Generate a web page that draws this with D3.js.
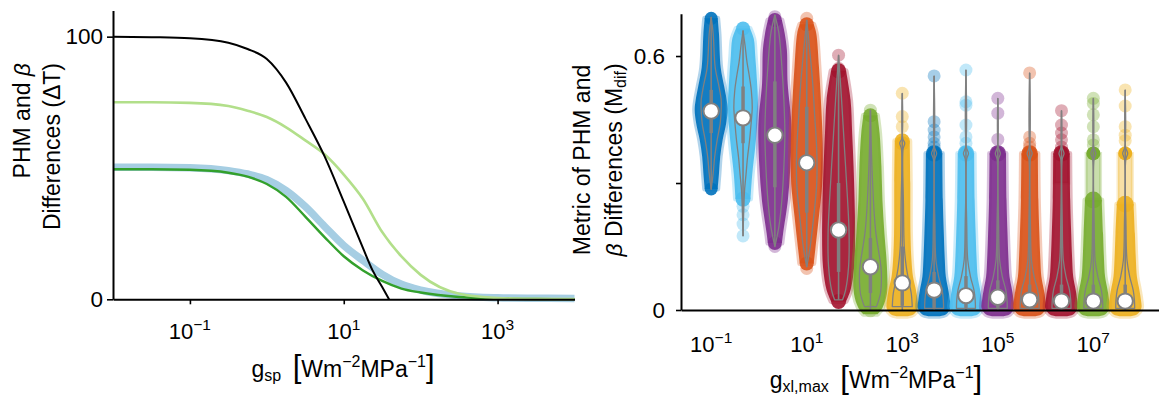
<!DOCTYPE html>
<html>
<head>
<meta charset="utf-8">
<script src="https://cdn.jsdelivr.net/npm/d3@7/dist/d3.min.js"></script>
<style>
html,body{margin:0;padding:0;background:#fff;}
svg{display:block;}
text{font-family:"Liberation Sans","DejaVu Sans",sans-serif;fill:#000;}
</style>
</head>
<body>
<svg id="chart" width="1159" height="402"></svg>
<script>
// ================= LEFT PANEL DATA =================
const gspBlack = [0.01, 0.0316, 0.1, 0.316, 0.562, 1, 1.78, 3.16, 5.62, 10, 17.8, 23.7, 31.6, 38.8];
const dTBlack  = [100, 99.8, 99.4, 97.7, 95.3, 91.5, 82.5, 68.9, 54.5, 37.2, 19.5, 11.0, 4.7, 0];
const gsp = [0.01, 0.0316, 0.1, 0.316, 0.562, 1, 1.78, 3.16, 5.62, 10, 17.8, 31.6, 56.2, 100, 316, 1000, 3162, 10000];
const dTLightGreen = [75, 75, 74.8, 73.6, 71.8, 69.4, 65.5, 60.5, 55.2, 47.5, 38.2, 25.6, 16.3, 9.3, 2.1, 0.5, 0.15, 0.05];
const dTBlue       = [50.3, 50.3, 50.1, 49.0, 47.7, 45.5, 41.4, 35.3, 27.8, 20.5, 14.8, 9.5, 5.7, 3.5, 1.3, 0.6, 0.4, 0.3];
const dTDarkGreen  = [49.5, 49.5, 49.3, 48.2, 46.7, 43.9, 39.0, 31.5, 23.7, 16.4, 11.0, 7.0, 4.1, 2.6, 0.9, 0.35, 0.1, 0.05];
const leftXTicks = [0.1, 10, 1000];
const leftYTicks = [0, 100];

// ================= RIGHT PANEL DATA =================
const gxl = [0.1, 0.4642, 2.154, 10, 46.42, 215.4, 1000, 4642, 21544, 1e5, 464159, 2154435, 1e7, 46415888];
const rightXTicks = [0.1, 10, 1000, 1e5, 1e7];
const rightYTicks = [0, 0.3, 0.6];
const medians = [0.470, 0.454, 0.413, 0.348, 0.189, 0.102, 0.064, 0.047, 0.034, 0.030, 0.024, 0.021, 0.021, 0.021];
const q1s     = [0.418, 0.394, 0.290, 0.230, 0.090, 0.040, 0.010, 0.005, 0.005, 0.005, 0.004, 0.004, 0.004, 0.004];
const q3s     = [0.520, 0.528, 0.540, 0.480, 0.300, 0.170, 0.150, 0.090, 0.080, 0.070, 0.060, 0.060, 0.060, 0.060];
const mins    = [0.285, 0.175, 0.150, 0.102, 0.024, 0, 0, 0, 0, 0, 0, 0, 0, 0];
const maxs    = [0.692, 0.660, 0.697, 0.685, 0.602, 0.472, 0.512, 0.553, 0.567, 0.500, 0.560, 0.471, 0.500, 0.520];
// violin outline: [value, relative density]
const violinDensity = [
  [[0.692,0],[0.652,0.2],[0.573,0.4],[0.528,0.78],[0.496,1.0],[0.473,1.0],[0.441,0.9],[0.402,0.6],[0.362,0.35],[0.323,0.2],[0.285,0]],
  [[0.660,0],[0.625,0.2],[0.585,0.4],[0.557,0.6],[0.518,0.83],[0.479,0.92],[0.439,0.8],[0.400,0.65],[0.361,0.45],[0.321,0.3],[0.282,0.15],[0.243,0.08],[0.175,0]],
  [[0.697,0],[0.654,0.4],[0.575,0.7],[0.496,0.9],[0.417,1.0],[0.339,0.9],[0.260,0.7],[0.197,0.4],[0.150,0]],
  [[0.685,0],[0.614,0.3],[0.535,0.6],[0.457,0.8],[0.378,1.0],[0.299,1.0],[0.221,0.7],[0.142,0.3],[0.102,0]],
  [[0.602,0],[0.496,0.3],[0.378,0.6],[0.260,0.9],[0.181,1.05],[0.102,1.0],[0.047,0.7],[0.024,0.4]],
  [[0.472,0],[0.417,0.05],[0.339,0.15],[0.260,0.3],[0.221,0.4],[0.181,0.55],[0.142,0.8],[0.102,1.05],[0.079,1.1],[0.039,1.0],[0.008,0.6]],
  [[0.512,0],[0.405,0.05],[0.394,0.25],[0.380,0.08],[0.250,0.12],[0.150,0.2],[0.102,0.4],[0.063,0.7],[0.039,0.9],[0.008,1.0]],
  [[0.553,0],[0.385,0.04],[0.370,0.25],[0.355,0.06],[0.200,0.08],[0.118,0.18],[0.079,0.45],[0.047,0.8],[0.024,0.92],[0.004,0.95]],
  [[0.567,0],[0.385,0.04],[0.370,0.25],[0.355,0.06],[0.200,0.08],[0.118,0.18],[0.079,0.45],[0.047,0.8],[0.024,0.92],[0.004,0.95]],
  [[0.500,0],[0.385,0.04],[0.370,0.25],[0.355,0.06],[0.200,0.08],[0.118,0.18],[0.079,0.45],[0.047,0.8],[0.024,0.92],[0.004,0.95]],
  [[0.560,0],[0.385,0.04],[0.370,0.25],[0.355,0.06],[0.200,0.08],[0.118,0.18],[0.079,0.45],[0.047,0.8],[0.024,0.92],[0.004,0.95]],
  [[0.471,0],[0.385,0.04],[0.370,0.25],[0.355,0.06],[0.200,0.08],[0.118,0.18],[0.079,0.45],[0.047,0.8],[0.024,0.92],[0.004,0.95]],
  [[0.500,0],[0.385,0.04],[0.370,0.25],[0.355,0.06],[0.200,0.08],[0.118,0.18],[0.079,0.45],[0.047,0.8],[0.024,0.92],[0.004,0.95]],
  [[0.520,0],[0.385,0.04],[0.370,0.25],[0.355,0.06],[0.200,0.08],[0.118,0.18],[0.079,0.45],[0.047,0.8],[0.024,0.92],[0.004,0.95]]
];
// dense cloud of data points: [value, relative spread]
const pointSpread = [
  [[0.689,0.65],[0.652,0.78],[0.573,0.95],[0.528,1.3],[0.496,1.55],[0.473,1.65],[0.441,1.5],[0.402,1.15],[0.362,0.9],[0.323,0.78],[0.286,0.65]],
  [[0.665,0.7],[0.640,1.08],[0.600,1.22],[0.557,1.35],[0.479,1.5],[0.400,1.28],[0.321,0.92],[0.262,0.75]],
  [[0.685,0.7],[0.654,0.98],[0.614,1.2],[0.535,1.28],[0.457,1.6],[0.417,1.66],[0.339,1.55],[0.260,1.3],[0.181,0.82],[0.158,0.7]],
  [[0.675,0.7],[0.654,0.95],[0.575,1.22],[0.457,1.5],[0.378,1.6],[0.299,1.55],[0.221,1.22],[0.142,0.85],[0.110,0.7]],
  [[0.565,0.75],[0.496,1.2],[0.417,1.36],[0.339,1.5],[0.260,1.6],[0.181,1.65],[0.102,1.56],[0.047,1.2],[0.020,0.75]],
  [[0.460,0.7],[0.417,0.92],[0.339,1.1],[0.260,1.2],[0.181,1.4],[0.102,1.65],[0.039,1.65],[0.005,1.2],[-0.010,0.7]],
  [[0.400,0.75],[0.300,0.8],[0.181,0.82],[0.118,0.92],[0.079,1.07],[0.047,1.37],[0.024,1.52],[0.005,1.57],[-0.010,1.15],[-0.015,0.5]],
  [[0.370,0.82],[0.260,0.87],[0.181,0.97],[0.118,1.07],[0.079,1.17],[0.047,1.42],[0.024,1.57],[0.005,1.62],[-0.010,1.2],[-0.015,0.5]],
  [[0.370,0.82],[0.260,0.87],[0.181,0.97],[0.118,1.07],[0.079,1.17],[0.047,1.42],[0.024,1.57],[0.005,1.62],[-0.010,1.2],[-0.015,0.5]],
  [[0.370,0.82],[0.260,0.87],[0.181,0.97],[0.118,1.07],[0.079,1.17],[0.047,1.42],[0.024,1.57],[0.005,1.62],[-0.010,1.2],[-0.015,0.5]],
  [[0.370,0.82],[0.260,0.87],[0.181,0.97],[0.118,1.07],[0.079,1.17],[0.047,1.42],[0.024,1.57],[0.005,1.62],[-0.010,1.2],[-0.015,0.5]],
  [[0.370,0.82],[0.260,0.87],[0.181,0.97],[0.118,1.07],[0.079,1.17],[0.047,1.42],[0.024,1.57],[0.005,1.62],[-0.010,1.2],[-0.015,0.5]],
  [[0.260,0.84],[0.181,0.97],[0.118,1.07],[0.079,1.17],[0.047,1.42],[0.024,1.57],[0.005,1.62],[-0.010,1.2],[-0.015,0.5]],
  [[0.250,0.84],[0.181,0.97],[0.118,1.07],[0.079,1.17],[0.047,1.42],[0.024,1.57],[0.005,1.62],[-0.010,1.2],[-0.015,0.5]]
];
// sparse points drawn individually
const sparsePoints = [
  [], [0.245,0.225,0.203,0.175], [0.693,0.150], [0.689,0.098], [0.602,0.571], [0.472,-0.002],
  [0.512,0.457,0.433],
  [0.553,0.445,0.425,0.409,0.394,0.385],
  [0.567,0.492,0.484,0.437,0.409,0.394],
  [0.500,0.465,0.403],
  [0.560,0.409,0.394,0.385],
  [0.471,0.437,0.418,0.402,0.385],
  [0.500,0.488,0.461,0.433,0.402,0.390],
  [0.520,0.482,0.433,0.413,0.400]
];
// values where many points pile up
const pilePoints = [[],[],[],[],[],[],[0.394],[0.370],[0.370],[0.370],[0.370],[0.370],[0.370],[0.370]];
// thinner band of points [from, to]
const thinBands = [null,null,null,null,null,null,null,null,null,null,null,[0.30,0.36],[0.26,0.37],[0.25,0.37]];
const violinColors = ["#0072BD","#4DBEEE","#7E2F8E","#D95319","#A2142F","#77AC30","#EDB120",
                      "#0072BD","#4DBEEE","#7E2F8E","#D95319","#A2142F","#77AC30","#EDB120"];

// ================= DRAWING =================
const svg = d3.select("#chart");
const GREY = "#808080";

function powLabel(g, x, y, exp) {
  const t = g.append("text").attr("x", x).attr("y", y).attr("text-anchor", "middle").attr("font-size", 22);
  t.append("tspan").text("10");
  t.append("tspan").attr("font-size", 15.5).attr("dy", -9).text(exp < 0 ? "\u2212" + (-exp) : String(exp));
}
function unitLabel(g, cx, y, sub) {
  const t = g.append("text").attr("x", cx).attr("y", y).attr("text-anchor", "middle").attr("font-size", 23);
  t.append("tspan").text("g");
  t.append("tspan").attr("font-size", 16).attr("dy", 4).text(sub);
  t.append("tspan").attr("dy", -4).text("\u2002");
  t.append("tspan").attr("font-size", 31).text("[");
  t.append("tspan").text("Wm");
  t.append("tspan").attr("font-size", 16).attr("dy", -10).text("\u22122");
  t.append("tspan").attr("dy", 10).text("MPa");
  t.append("tspan").attr("font-size", 16).attr("dy", -10).text("\u22121");
  t.append("tspan").attr("font-size", 31).attr("dy", 10).text("]");
}
function styleAxis(g) {
  g.attr("font-size", null).attr("font-family", null);
  g.select(".domain").attr("stroke", "#000").attr("stroke-width", 2);
  g.selectAll(".tick line").attr("stroke", "#000").attr("stroke-width", 1.6);
  g.selectAll(".tick text").attr("font-size", 22.5).attr("fill", "#000");
}

// ---------- LEFT ----------
const xL = d3.scaleLog().domain([1e-2, 1e4]).range([113, 574.5]);
const yL = d3.scaleLinear().domain([0, 110]).range([299.3, 10.4]);
const gl = svg.append("g");

const lineL = d3.line().x(d => xL(d[0])).y(d => yL(d[1])).curve(d3.curveMonotoneX);
const zip = (a, b) => a.map((v, i) => [v, b[i]]);
gl.append("path").attr("d", lineL(zip(gsp, dTBlue))).attr("fill", "none")
  .attr("stroke", "#a6cee3").attr("stroke-width", 7.5).attr("stroke-linecap", "butt");
gl.append("path").attr("d", lineL(zip(gsp, dTDarkGreen))).attr("fill", "none")
  .attr("stroke", "#33a02c").attr("stroke-width", 2.4);
gl.append("path").attr("d", lineL(zip(gsp, dTLightGreen))).attr("fill", "none")
  .attr("stroke", "#b2df8a").attr("stroke-width", 2.6);
gl.append("path").attr("d", lineL(zip(gspBlack, dTBlack))).attr("fill", "none")
  .attr("stroke", "#000").attr("stroke-width", 2);

const axLX = gl.append("g").attr("transform", `translate(0,${yL(0)})`)
  .call(d3.axisBottom(xL).tickValues(leftXTicks).tickSize(5).tickSizeOuter(0).tickFormat(() => ""));
styleAxis(axLX);
const axLY = gl.append("g").attr("transform", `translate(${xL(1e-2)},0)`)
  .call(d3.axisLeft(yL).tickValues(leftYTicks).tickSize(6).tickPadding(4).tickSizeOuter(0).tickFormat(d3.format("d")));
styleAxis(axLY);
leftXTicks.forEach(v => powLabel(gl, xL(v), 338.5, Math.round(Math.log10(v))));
unitLabel(gl, 343, 377, "sp");

const yl1 = gl.append("text").attr("transform", "translate(29.5,63) rotate(-90)")
  .attr("text-anchor", "end").attr("font-size", 23);
yl1.append("tspan").text("PHM and ");
yl1.append("tspan").attr("font-style", "italic").text("\u03B2");
gl.append("text").attr("transform", "translate(60,63) rotate(-90)")
  .attr("text-anchor", "end").attr("font-size", 23).text("Differences (\u0394T)");

// ---------- RIGHT ----------
const xR = d3.scaleLog().domain([Math.pow(10, -1.632), Math.pow(10, 8.5)]).range([681, 1165]);
const yR = d3.scaleLinear().domain([0, 0.7]).range([310, 13.7]);
const densW = d3.scaleLinear().domain([0, 1]).range([0, 10]);
const R = 6.5;
const gr = svg.append("g");

const cloudLayer = gr.append("g");
const violinLayer = gr.append("g");

gxl.forEach((g, i) => {
  const cx = xR(g), col = violinColors[i];
  const prof = pointSpread[i];
  const area = d3.area().y(d => yR(d[0])).x0(d => cx - densW(d[1])).x1(d => cx + densW(d[1]))
    .curve(d3.curveCatmullRom.alpha(0.5));
  const c = cloudLayer.append("g");
  if (thinBands[i]) {
    const b = thinBands[i];
    c.append("path").attr("d", area([[b[1], 0.72], [b[0], 0.72]]))
      .attr("fill", col).attr("fill-opacity", 0.4).attr("stroke", col).attr("stroke-opacity", 0.25).attr("stroke-width", 3);
  }
  c.append("path").attr("d", area(prof)).attr("fill", col).attr("fill-opacity", 0.92)
    .attr("stroke", col).attr("stroke-opacity", 0.3).attr("stroke-width", 5).attr("stroke-linejoin", "round");
  const top = prof[0], bot = prof[prof.length - 1];
  c.append("circle").attr("cx", cx).attr("cy", yR(top[0])).attr("r", densW(top[1]))
    .attr("fill", col).attr("fill-opacity", 0.9);
  if (bot[0] > 0.01) {
    c.append("circle").attr("cx", cx).attr("cy", yR(bot[0])).attr("r", densW(bot[1]))
      .attr("fill", col).attr("fill-opacity", 0.9);
  }
  sparsePoints[i].forEach(v => {
    c.append("circle").attr("cx", cx).attr("cy", yR(v)).attr("r", R)
      .attr("fill", col).attr("fill-opacity", 0.35);
  });
  pilePoints[i].forEach(v => {
    c.append("circle").attr("cx", cx).attr("cy", yR(v)).attr("r", R + 0.5)
      .attr("fill", col).attr("fill-opacity", 1);
  });

  const vg = violinLayer.append("g");
  vg.append("path").attr("d", area(violinDensity[i])).attr("fill", "none")
    .attr("stroke", GREY).attr("stroke-width", 1.3).attr("stroke-linejoin", "round");
  vg.append("line").attr("x1", cx).attr("x2", cx).attr("y1", yR(mins[i])).attr("y2", yR(maxs[i]))
    .attr("stroke", GREY).attr("stroke-width", 1.6);
  vg.append("line").attr("x1", cx).attr("x2", cx).attr("y1", yR(q1s[i])).attr("y2", yR(q3s[i]))
    .attr("stroke", GREY).attr("stroke-width", 3.5);
  vg.append("circle").attr("cx", cx).attr("cy", yR(medians[i])).attr("r", 7.7)
    .attr("fill", "#fff").attr("stroke", GREY).attr("stroke-width", 2);
});

const axRX = gr.append("g").attr("transform", `translate(0,${yR(0)})`)
  .call(d3.axisBottom(xR).tickValues([]).tickSizeOuter(0));
styleAxis(axRX);
const axRY = gr.append("g").attr("transform", `translate(${xR.range()[0]},0)`)
  .call(d3.axisLeft(yR).tickValues(rightYTicks).tickSize(5).tickPadding(11).tickSizeOuter(0)
    .tickFormat(v => v === 0 ? "0" : (v === 0.6 ? "0.6" : "")));
styleAxis(axRY);
rightXTicks.forEach(v => powLabel(gr, xR(v), 352, Math.round(Math.log10(v))));
unitLabel(gr, 876, 388, "xl,max");

gr.append("text").attr("transform", "translate(590,160) rotate(-90)")
  .attr("text-anchor", "middle").attr("font-size", 23).text("Metric of PHM and");
const yr2 = gr.append("text").attr("transform", "translate(622,160) rotate(-90)")
  .attr("text-anchor", "middle").attr("font-size", 23);
yr2.append("tspan").attr("font-style", "italic").text("\u03B2");
yr2.append("tspan").text(" Differences (M");
yr2.append("tspan").attr("font-size", 16).attr("dy", 4).text("dif");
yr2.append("tspan").attr("dy", -4).text(")");
</script>
</body>
</html>
